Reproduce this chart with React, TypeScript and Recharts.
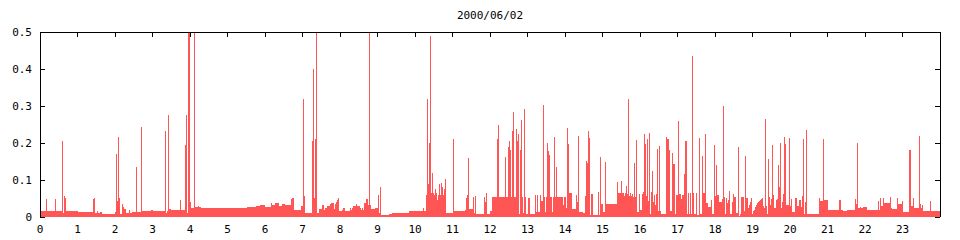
import { Area, AreaChart, XAxis, YAxis } from "recharts";

type Step = [number, number]; // [hour, load]

const title = "2000/06/02";
const hourTicks = [0, 1, 2, 3, 4, 5, 6, 7, 8, 9, 10, 11, 12, 13, 14, 15, 16, 17, 18, 19, 20, 21, 22, 23];
const frameTicks = [...hourTicks, 24];
const loadTicks = [0, 0.1, 0.2, 0.3, 0.4, 0.5];

// step breakpoints: the load holds from this hour until the next breakpoint
const nightSteps: Step[] = [
  [0, 0.015], [0.72, 0.016], [1.01, 0.014], [1.46, 0.011], [1.53, 0.016], [1.55, 0.01],
  [1.61, 0.013], [1.65, 0.008], [2.0, 0.013], [2.11, 0.009], [2.18, 0.035], [2.21, 0.027],
  [2.23, 0.022], [2.3, 0.01], [2.38, 0.019], [2.41, 0.012], [2.44, 0.03], [2.46, 0.013],
  [2.7, 0.015], [2.95, 0.02], [3.0, 0.015], [3.45, 0.021], [3.49, 0.018], [3.78, 0.02],
  [3.98, 0.044], [4.01, 0.04], [4.03, 0.025], [4.13, 0.027], [4.2, 0.03], [4.23, 0.027],
  [4.3, 0.024], [5.52, 0.027], [5.76, 0.03], [5.87, 0.032],
];

const morningSteps: Step[] = [
  [6.0, 0.028], [6.16, 0.038], [6.19, 0.032], [6.26, 0.037], [6.37, 0.031], [6.45, 0.035],
  [6.54, 0.033], [6.68, 0.04], [6.7, 0.048], [6.73, 0.051], [6.76, 0.019], [6.97, 0.03],
  [7.0, 0.034], [7.05, 0.058], [7.07, 0.011], [7.4, 0.018], [7.42, 0.012], [7.45, 0.022],
  [7.53, 0.033], [7.56, 0.02], [7.58, 0.018], [7.61, 0.023], [7.64, 0.03], [7.72, 0.035],
  [7.77, 0.037], [7.84, 0.022], [7.87, 0.034], [7.89, 0.04], [7.92, 0.047], [7.95, 0.052],
  [7.97, 0.016], [8.06, 0.02], [8.09, 0.025], [8.12, 0.02], [8.14, 0.017], [8.27, 0.025],
  [8.3, 0.018], [8.33, 0.023], [8.35, 0.03], [8.43, 0.035], [8.46, 0.03], [8.52, 0.023],
  [8.56, 0.02], [8.59, 0.024], [8.61, 0.02], [8.65, 0.038], [8.7, 0.05], [8.75, 0.032],
  [8.83, 0.022], [8.92, 0.025], [9.09, 0.005], [9.31, 0.008], [9.38, 0.012], [9.84, 0.015],
  [10.2, 0.02], [10.22, 0.023], [10.25, 0.016], [10.28, 0.06], [10.83, 0.012], [11.04, 0.015],
  [11.33, 0.02], [11.36, 0.052], [11.39, 0.06], [11.44, 0.022], [11.57, 0.01], [11.63, 0.009],
];

const afternoonSteps: Step[] = [
  [12.0, 0.015], [12.05, 0.055], [12.97, 0.008], [13.02, 0.051], [13.07, 0.008], [13.2, 0.059],
  [13.36, 0.044], [13.41, 0.055], [13.95, 0.033], [13.97, 0.054], [14.03, 0.024], [14.05, 0.065],
  [14.19, 0.022], [14.29, 0.06], [14.32, 0.041], [14.35, 0.013], [14.48, 0.011], [14.53, 0.057],
  [14.67, 0.006], [14.69, 0.062], [14.75, 0.006], [14.88, 0.068], [14.91, 0.006], [14.96, 0.035],
  [15.01, 0.014], [15.07, 0.149], [15.09, 0.034], [15.39, 0.095], [15.41, 0.065], [15.49, 0.097],
  [15.51, 0.066], [15.57, 0.058], [15.6, 0.066], [15.63, 0.084], [15.65, 0.063], [15.68, 0.32],
  [15.71, 0.057], [15.73, 0.065], [15.76, 0.058], [15.78, 0.062], [15.81, 0.054], [15.84, 0.146],
  [15.87, 0.054], [15.89, 0.208], [15.92, 0.013], [15.97, 0.063], [16.0, 0.02], [16.05, 0.063],
  [16.08, 0.067], [16.11, 0.224], [16.13, 0.197], [16.16, 0.056], [16.19, 0.212], [16.21, 0.044],
  [16.24, 0.227], [16.27, 0.008], [16.29, 0.068], [16.32, 0.124], [16.35, 0.041], [16.37, 0.06],
  [16.4, 0.033], [16.43, 0.062], [16.45, 0.184], [16.48, 0.016], [16.51, 0.193], [16.53, 0.017],
  [16.56, 0.008], [16.7, 0.217], [16.73, 0.212], [16.76, 0.193], [16.78, 0.18], [16.81, 0.017],
  [16.84, 0.177], [16.86, 0.172], [16.89, 0.143], [16.92, 0.076], [16.94, 0.009], [16.97, 0.06],
  [17.0, 0.206], [17.02, 0.26], [17.05, 0.063], [17.08, 0.048], [17.13, 0.06], [17.16, 0.124],
  [17.18, 0.117], [17.21, 0.206], [17.24, 0.009], [17.29, 0.066], [17.31, 0.009], [17.34, 0.066],
  [17.37, 0.009], [17.39, 0.435], [17.42, 0.064], [17.45, 0.009], [17.48, 0.15], [17.5, 0.064],
  [17.53, 0.006], [17.58, 0.214], [17.61, 0.009], [17.66, 0.165], [17.69, 0.066], [17.72, 0.216],
  [17.74, 0.224], [17.77, 0.038], [17.8, 0.031], [17.82, 0.027], [17.88, 0.051], [17.9, 0.047],
  [17.93, 0.009], [17.97, 0.195],
];

const eveningSteps: Step[] = [
  [18.0, 0.058], [18.03, 0.141], [18.05, 0.06], [18.1, 0.041], [18.19, 0.048], [18.21, 0.3],
  [18.24, 0.054], [18.27, 0.009], [18.29, 0.052], [18.32, 0.039], [18.35, 0.047], [18.37, 0.07],
  [18.4, 0.008], [18.45, 0.041], [18.48, 0.063], [18.51, 0.055], [18.56, 0.01], [18.61, 0.189],
  [18.64, 0.004], [18.67, 0.008], [18.69, 0.054], [18.77, 0.017], [18.8, 0.166], [18.83, 0.051],
  [18.88, 0.024], [18.91, 0.032], [18.93, 0.041], [18.96, 0.051], [18.99, 0.009], [19.01, 0.016],
  [19.04, 0.019], [19.07, 0.026], [19.09, 0.032], [19.12, 0.037], [19.15, 0.041], [19.17, 0.044],
  [19.2, 0.047], [19.23, 0.05], [19.25, 0.051], [19.28, 0.031], [19.31, 0.023], [19.33, 0.266],
  [19.36, 0.031], [19.39, 0.009], [19.41, 0.158], [19.44, 0.055], [19.47, 0.032], [19.49, 0.048],
  [19.52, 0.195], [19.55, 0.06], [19.57, 0.024], [19.63, 0.045], [19.65, 0.048], [19.68, 0.141],
  [19.71, 0.082], [19.73, 0.2], [19.76, 0.024], [19.79, 0.041], [19.81, 0.063], [19.84, 0.217],
  [19.87, 0.198], [19.89, 0.033], [19.97, 0.214], [20.0, 0.031], [20.03, 0.049], [20.05, 0.014],
  [20.13, 0.051], [20.19, 0.03], [20.24, 0.046], [20.29, 0.027], [20.32, 0.057], [20.35, 0.211],
  [20.37, 0.009], [20.4, 0.041], [20.43, 0.235], [20.45, 0.008], [20.77, 0.051], [20.8, 0.043],
  [20.88, 0.211], [20.91, 0.046], [21.0, 0.05], [21.01, 0.019], [21.31, 0.047], [21.36, 0.019],
  [21.41, 0.016], [21.52, 0.019], [21.72, 0.222], [21.74, 0.048], [21.77, 0.035], [21.79, 0.2],
  [21.82, 0.024], [21.87, 0.027], [21.9, 0.024], [21.95, 0.027], [22.04, 0.019], [22.07, 0.016],
  [22.09, 0.019], [22.35, 0.044], [22.37, 0.019], [22.4, 0.051], [22.43, 0.03], [22.48, 0.051],
  [22.51, 0.039], [22.67, 0.054], [22.69, 0.024], [22.72, 0.022], [22.85, 0.051], [22.88, 0.035],
  [22.99, 0.043], [23.01, 0.014], [23.17, 0.181], [23.23, 0.03], [23.28, 0.051], [23.31, 0.024],
  [23.44, 0.219], [23.47, 0.035], [23.49, 0.024], [23.52, 0.032], [23.55, 0.016], [23.73, 0.043],
  [23.76, 0.016],
];

// single-sample spikes laid over the steps (values above 0.5 are clipped at the top)
const nightSpikes: Step[] = [
  [0.16, 0.049], [0.4, 0.049], [0.59, 0.205], [0.62, 0.01], [0.64, 0.057], [0.67, 0.051],
  [1.41, 0.049], [1.44, 0.051], [2.03, 0.17], [2.06, 0.043], [2.08, 0.216], [2.11, 0.051],
  [2.57, 0.135], [2.68, 0.243], [3.33, 0.232], [3.36, 0.01], [3.41, 0.275], [3.73, 0.047],
  [3.87, 0.195], [3.89, 0.277], [3.92, 0.012], [3.945, 0.62], [3.97, 0.62], [4.1, 0.62],
];

const morningSpikes: Step[] = [
  [7.02, 0.318], [7.26, 0.205], [7.29, 0.4], [7.31, 0.052], [7.34, 0.21], [7.37, 0.62],
  [8.77, 0.62], [9.01, 0.06], [9.04, 0.01], [9.06, 0.082], [10.32, 0.32], [10.35, 0.09],
  [10.37, 0.2], [10.4, 0.49], [10.43, 0.065], [10.45, 0.12], [10.48, 0.065], [10.52, 0.05],
  [10.54, 0.077], [10.57, 0.065], [10.59, 0.045], [10.61, 0.06], [10.64, 0.09], [10.67, 0.06],
  [10.69, 0.093], [10.72, 0.082], [10.75, 0.06], [10.77, 0.077], [10.8, 0.104], [11.01, 0.21],
  [11.41, 0.16], [11.55, 0.055], [11.6, 0.058], [11.84, 0.055], [11.87, 0.04], [11.89, 0.065],
];

const afternoonSpikes: Step[] = [
  [12.19, 0.21], [12.21, 0.25], [12.4, 0.163], [12.48, 0.19], [12.51, 0.205], [12.53, 0.18],
  [12.59, 0.233], [12.61, 0.285], [12.69, 0.239], [12.72, 0.206], [12.75, 0.223], [12.78, 0.009],
  [12.8, 0.181], [12.83, 0.262], [12.88, 0.011], [12.91, 0.292], [13.23, 0.013], [13.28, 0.013],
  [13.3, 0.013], [13.41, 0.303], [13.46, 0.013], [13.53, 0.2], [13.55, 0.178], [13.57, 0.168],
  [13.65, 0.013], [13.71, 0.216], [13.76, 0.135], [14.05, 0.24], [14.08, 0.197], [14.35, 0.22],
  [14.56, 0.151], [14.59, 0.146], [14.61, 0.232], [14.64, 0.214], [14.93, 0.161],
];

const SPIKE_WIDTH = 0.027; // one sample, about a pixel on the time axis

const steps = [...nightSteps, ...morningSteps, ...afternoonSteps, ...eveningSteps];
const spikes = [...nightSpikes, ...morningSpikes, ...afternoonSpikes];

function stepAt(h: number) {
  let v = steps[0][1];
  for (const [t, val] of steps) {
    if (t <= h + 1e-9) v = val;
    else break;
  }
  return v;
}

function loadAt(h: number) {
  let v: number | null = null;
  let start = -1;
  for (const [t, val] of spikes) {
    if (t <= h + 1e-9 && h < t + SPIKE_WIDTH - 1e-9 && t > start) {
      v = val;
      start = t;
    }
  }
  return v ?? stepAt(h);
}

const times = Array.from(
  new Set([
    ...steps.map((s) => s[0]),
    ...spikes.map((s) => s[0]),
    ...spikes.map((s) => +(s[0] + SPIKE_WIDTH).toFixed(4)),
    24,
  ]),
).sort((a, b) => a - b);

const data = times.map((hour) => ({ hour, load: loadAt(hour) }));

const font = "DejaVu Sans Mono";
const tickStyle = { fill: "#000", fontSize: 11, fontFamily: font };
const frameLine = { stroke: "#000", shapeRendering: "crispEdges" };

// keeps the tick marks but draws no label
const noLabel = () => <g />;

export default function App() {
  return (
    <div style={{ position: "absolute", left: 0, top: 0, width: 960, height: 240, background: "#fff" }}>
      <div
        style={{
          position: "absolute",
          left: 390,
          top: 9,
          width: 200,
          textAlign: "center",
          fontFamily: font,
          fontSize: 11,
          lineHeight: "13px",
          color: "#000",
        }}
      >
        {title}
      </div>
      <AreaChart width={960} height={240} data={data} margin={{ top: 0, right: 0, bottom: 0, left: 0 }}>
        <XAxis
          dataKey="hour"
          type="number"
          domain={[0, 24]}
          ticks={hourTicks}
          interval={0}
          height={23}
          allowDataOverflow
          axisLine={false}
          tickLine={false}
          tickSize={0}
          tickMargin={8}
          tick={tickStyle}
        />
        <XAxis
          xAxisId="top"
          orientation="top"
          dataKey="hour"
          type="number"
          domain={[0, 24]}
          ticks={frameTicks}
          interval={0}
          height={32}
          allowDataOverflow
          axisLine={frameLine}
          tickLine={frameLine}
          tickSize={-5}
          tick={noLabel}
        />
        <YAxis
          type="number"
          domain={[0, 0.5]}
          ticks={loadTicks}
          interval={0}
          width={40}
          allowDataOverflow
          axisLine={frameLine}
          tickLine={frameLine}
          tickSize={-5}
          tickMargin={13}
          tick={tickStyle}
          tickFormatter={(v: number) => (v === 0 ? "0" : v.toFixed(1))}
        />
        <YAxis
          yAxisId="right"
          orientation="right"
          type="number"
          domain={[0, 0.5]}
          ticks={loadTicks}
          interval={0}
          width={20}
          allowDataOverflow
          axisLine={frameLine}
          tickLine={frameLine}
          tickSize={-5}
          tick={noLabel}
        />
        <Area
          dataKey="load"
          type="stepAfter"
          fill="#ff5555"
          fillOpacity={1}
          stroke="none"
          shapeRendering="crispEdges"
          isAnimationActive={false}
        />
      </AreaChart>
    </div>
  );
}
